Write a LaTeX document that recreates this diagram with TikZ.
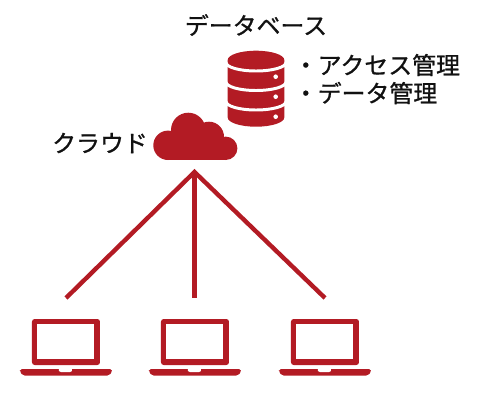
\documentclass[tikz,border=0pt]{standalone}
\usepackage{fontspec}
\newfontfamily\cjk[RawFeature={embolden=0.9}]{Noto Sans CJK JP}
\definecolor{dbred}{HTML}{B31B24}
\definecolor{ink}{HTML}{111111}
\tikzset{
  labeltext/.style={font=\cjk\fontsize{13.6pt}{16pt}\selectfont, text=ink, inner sep=0pt},
  linkline/.style={dbred, line width=2.5pt, line join=miter, miter limit=10},
  pics/laptop/.style={code={
    \fill[dbred, rounded corners=1.5pt] (-34,-23) rectangle (34,23);
    \fill[white] (-28.5,-18) rectangle (28,17);
    \fill[dbred, rounded corners=1pt] (-46,27) -- (46,27) -- (46,30) -- (43,33.5) -- (-43,33.5) -- (-46,30) -- cycle;
    \fill[white] (-7,26.5) -- (6,26.5) -- (6,29) -- (4,30) -- (-5,30) -- (-7,29) -- cycle;
  }}
}
\begin{document}
\begin{tikzpicture}[x=0.02cm, y=-0.02cm]

\useasboundingbox (0,0) rectangle (485,400);

% --- Labels ---
\node[labeltext] (dbtitle) at (256,25) {データベース};
\node[labeltext, anchor=west] (access) at (293.5,65) {・アクセス管理};
\node[labeltext, anchor=west] (manage) at (293.5,93) {・データ管理};
\node[labeltext] (cloudname) at (100,143) {クラウド};

% --- Database ---
\fill[dbred] (227.7,60) -- (227.7,117.5) arc[start angle=180, end angle=360, x radius=28.3, y radius=-9.2]
  -- (284.3,60) arc[start angle=0, end angle=180, x radius=28.3, y radius=-9.3] -- cycle;
\foreach \y in {62.5,82,101.5}
  \draw[white, line width=1.7pt] (226,\y) arc[start angle=180, end angle=360, x radius=30, y radius=-8.5];
\foreach \y in {76.7,96.7,116.7}
  \fill[white] (275.7,\y) circle (2.3);

% --- Cloud ---
\fill[dbred] (168,145.3) circle (14.7);
\fill[dbred] (188.3,130) circle (17.3);
\fill[dbred] (209,136.7) circle (15);
\fill[dbred] (225.7,148.3) circle (11.7);
\fill[dbred] (168,138) rectangle (226,160);

% --- Laptops ---
\pic at (66,342) {laptop};
\pic at (195,342) {laptop};
\pic at (325,342) {laptop};

% --- Links ---
\coordinate (hub) at (194.5,172);
\coordinate (left) at (66,298);
\coordinate (middle) at (194.5,298);
\coordinate (right) at (325,298);
\draw[linkline] (left) -- (hub) -- (right);
\draw[linkline] (hub) -- (middle);

\end{tikzpicture}
\end{document}
